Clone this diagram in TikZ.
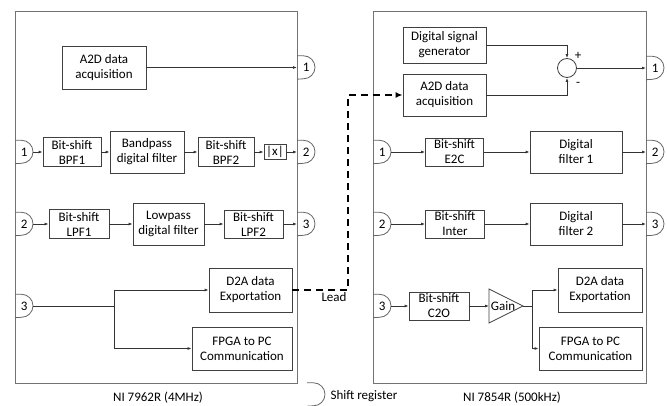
\documentclass[tikz,border=0pt]{standalone}
\usepackage{fontspec}
\setmainfont{Carlito}
\usetikzlibrary{arrows.meta}
% D shaped shift register on a node
\newcommand{\regshape}[1]{%
  \draw[regline] (#1.north west) -- ++(6.5,0)
    arc[start angle=-90,end angle=90,radius=11.5] -- (#1.south west);}

\begin{document}
\begin{tikzpicture}[x=1pt,y=-1pt,>={Latex[length=4pt,width=3pt]},
  font=\fontsize{13}{15}\selectfont,
  board/.style={draw=black!55,line width=0.9pt},
  box/.style 2 args={draw=black!75,line width=0.8pt,align=center,inner sep=0pt,
    minimum width=#1pt,minimum height=#2pt},
  reg/.style={minimum width=18pt,minimum height=23pt,inner sep=0pt,anchor=west},
  regline/.style={draw=black!60,line width=0.8pt},
  wire/.style={draw=black!80,line width=0.8pt},
  link/.style={wire,->},
  lead/.style={-{Latex[length=7pt,width=6pt]},line width=2.4pt,
    dash pattern=on 7pt off 5pt}]
  \useasboundingbox (0,0) rectangle (667,406);
  % boards
  \draw[board] (15,11) rectangle (297,383);
  \draw[board] (373,11) rectangle (646,383);
  % NI 7962R
  \node[box={84}{43}] (la2d) at (104,67.5) {A2D data\\acquisition};
  \node[reg] (lout1) at (297,67.5) {1};
  \node[reg] (lin1) at (15,152) {1};
  \node[box={58}{29}] (bpf1) at (72,152) {Bit-shift\\BPF1};
  \node[box={74}{42}] (bpfilt) at (147,152) {Bandpass\\digital filter};
  \node[box={56}{29}] (bpf2) at (226,152) {Bit-shift\\BPF2};
  \node[box={22}{15}] (absx) at (275,152) {|x|};
  \node[reg] (lout2) at (297,152) {2};
  \node[reg] (lin2) at (15,224) {2};
  \node[box={60}{29}] (lpf1) at (79,224) {Bit-shift\\LPF1};
  \node[box={71}{42}] (lpfilt) at (168.5,224) {Lowpass\\digital filter};
  \node[box={59}{28}] (lpf2) at (253.5,224) {Bit-shift\\LPF2};
  \node[reg] (lout3) at (297,224) {3};
  \node[reg] (lin3) at (15,306) {3};
  \node[box={83}{44}] (ld2a) at (250.5,290) {D2A data\\Exportation};
  \node[box={100}{43}] (lfpga) at (242,348.5) {FPGA to PC\\Communication};
  \coordinate (ljunc) at (114,306);
  % NI 7854R
  \node[box={83}{36}] (rdsg) at (444.5,45) {Digital signal\\generator};
  \node[box={83}{42}] (ra2d) at (444.5,95) {A2D data\\acquisition};
  \node[draw=black!75,line width=0.8pt,circle,minimum size=19pt,inner sep=0pt] (sum) at (567,68) {};
  \node[reg] (rout1) at (646,68) {1};
  \node[reg] (rin1) at (373,152) {1};
  \node[box={58}{28}] (re2c) at (454.5,152) {Bit-shift\\E2C};
  \node[box={92}{42}] (rdf1) at (576,152) {Digital\\filter 1};
  \node[reg] (rout2) at (646,152) {2};
  \node[reg] (rin2) at (373,224) {2};
  \node[box={59}{28}] (rinter) at (455,224) {Bit-shift\\Inter};
  \node[box={92}{42}] (rdf2) at (576,224) {Digital\\filter 2};
  \node[reg] (rout3) at (646,224) {3};
  \node[reg] (rin3) at (373,306) {3};
  \node[box={60}{28}] (rc2o) at (439,306) {Bit-shift\\C2O};
  \coordinate (gainin) at (489,306);
  \coordinate (gainout) at (523,306);
  \draw[wire,draw=black!75] (489,289) -- (gainout) -- (489,323) -- cycle;
  \node[inner sep=0pt] (gain) at (503,306) {Gain};
  \coordinate (rjunc) at (532,306);
  \node[box={84}{44}] (rd2a) at (600,290) {D2A data\\Exportation};
  \node[box={103}{43}] (rfpga) at (590.5,348.5) {FPGA to PC\\Communication};
  % legend
  \node[reg] (legreg) at (307,394.5) {};
  \node[anchor=west] (legtext) at (327,396) {Shift register};
  \foreach \r in {lout1,lin1,lout2,lin2,lout3,lin3,rout1,rin1,rout2,rin2,rout3,rin3,legreg}
    {\regshape{\r}}
  % connections
  \draw[link] (la2d) -- (lout1);
  \draw[link] (lin1) -- (bpf1);
  \draw[link] (bpf1) -- (bpfilt);
  \draw[link] (bpfilt) -- (bpf2);
  \draw[link] (bpf2) -- (absx);
  \draw[link] (absx) -- (lout2);
  \draw[link] (lin2) -- (lpf1);
  \draw[link] (lpf1) -- (lpfilt);
  \draw[link] (lpfilt) -- (lpf2);
  \draw[link] (lpf2) -- (lout3);
  \draw[wire] (lin3) -- (ljunc);
  \draw[link] (ljunc) |- (ld2a);
  \draw[link] (ljunc) |- (lfpga);
  \coordinate (leadbend) at (348,290);
  \draw[lead] (ld2a) -- (leadbend) |- (ra2d);
  \node (leadlbl) at (334,297) {Lead};
  \draw[link] (rdsg) -| (sum);
  \draw[link] (ra2d) -| (sum);
  \node (plus) at (578,56) {+};
  \node (minus) at (578,84) {-};
  \draw[link] (sum) -- (rout1);
  \draw[link] (rin1) -- (re2c);
  \draw[link] (re2c) -- (rdf1);
  \draw[link] (rdf1) -- (rout2);
  \draw[link] (rin2) -- (rinter);
  \draw[link] (rinter) -- (rdf2);
  \draw[link] (rdf2) -- (rout3);
  \draw[link] (rin3) -- (rc2o);
  \draw[link] (rc2o) -- (gainin);
  \draw[wire] (gainout) -- (rjunc);
  \draw[link] (rjunc) |- (rd2a);
  \draw[link] (rjunc) |- (rfpga);
  % board names
  \node (lname) at (158,398) {NI 7962R (4MHz)};
  \node (rname) at (512,398) {NI 7854R (500kHz)};
\end{tikzpicture}
\end{document}
